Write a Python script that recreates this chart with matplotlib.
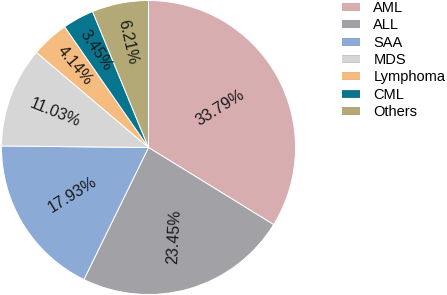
import matplotlib
matplotlib.use("Agg")
import matplotlib.pyplot as plt
import numpy as np
from matplotlib.lines import Line2D
import matplotlib.patheffects as pe

categories = ["AML", "ALL", "SAA", "MDS", "Lymphoma", "CML", "Others"]
values = [33.79, 23.45, 17.93, 11.03, 4.14, 3.45, 6.21]
colors = ["#d8adb0", "#a2a1a6", "#8caad6", "#d6d6d6", "#f5bb7f", "#08758f", "#b3a977"]
edge_colors = ["#c99a9e", "#8d8c92", "#6f93c8", "#bdbdbd", "#e8a462", "#055f75", "#9c9160"]
label_r = [0.56, 0.63, 0.61, 0.68, 0.75, 0.75, 0.73]
label_rot = [32, 87, 32, -22, -50, -56, -77]

plt.rcParams['font.family'] = ['Liberation Sans', 'DejaVu Sans']

W, H = 447, 295
fig = plt.figure(figsize=(W / 100, H / 100), dpi=100)
cx, cy, R = 148.5, 147.5, 147
ax = fig.add_axes([(cx - R) / W, (H - cy - R) / H, 2 * R / W, 2 * R / H])

wedges, _ = ax.pie(values, colors=colors, startangle=90, counterclock=False,
                   radius=1, wedgeprops=dict(edgecolor='white', linewidth=0.7))
ax.set_xlim(-1, 1)
ax.set_ylim(-1, 1)
ax.set_aspect('equal')
ax.axis('off')

for w, v, r, rot in zip(wedges, values, label_r, label_rot):
    theta = np.deg2rad((w.theta1 + w.theta2) / 2)
    ax.text(r * np.cos(theta), r * np.sin(theta), f"{v:.2f}%", ha='center', va='center',
            rotation=rot, rotation_mode='anchor', fontsize=11.5, color='#1a1a1a')

handles = [Line2D([0], [0], color=c, lw=4.5, solid_capstyle='butt',
                  path_effects=[pe.Stroke(linewidth=5.5, foreground=ec), pe.Normal()])
           for c, ec in zip(colors, edge_colors)]
fig.legend(handles, categories, loc='upper left', bbox_to_anchor=(342 / W, 1 - 1 / H),
           frameon=False, fontsize=10.5, handlelength=1.25, handletextpad=0.9,
           labelspacing=0.23, borderpad=0, borderaxespad=0)

fig.savefig("out.png", dpi=100)
